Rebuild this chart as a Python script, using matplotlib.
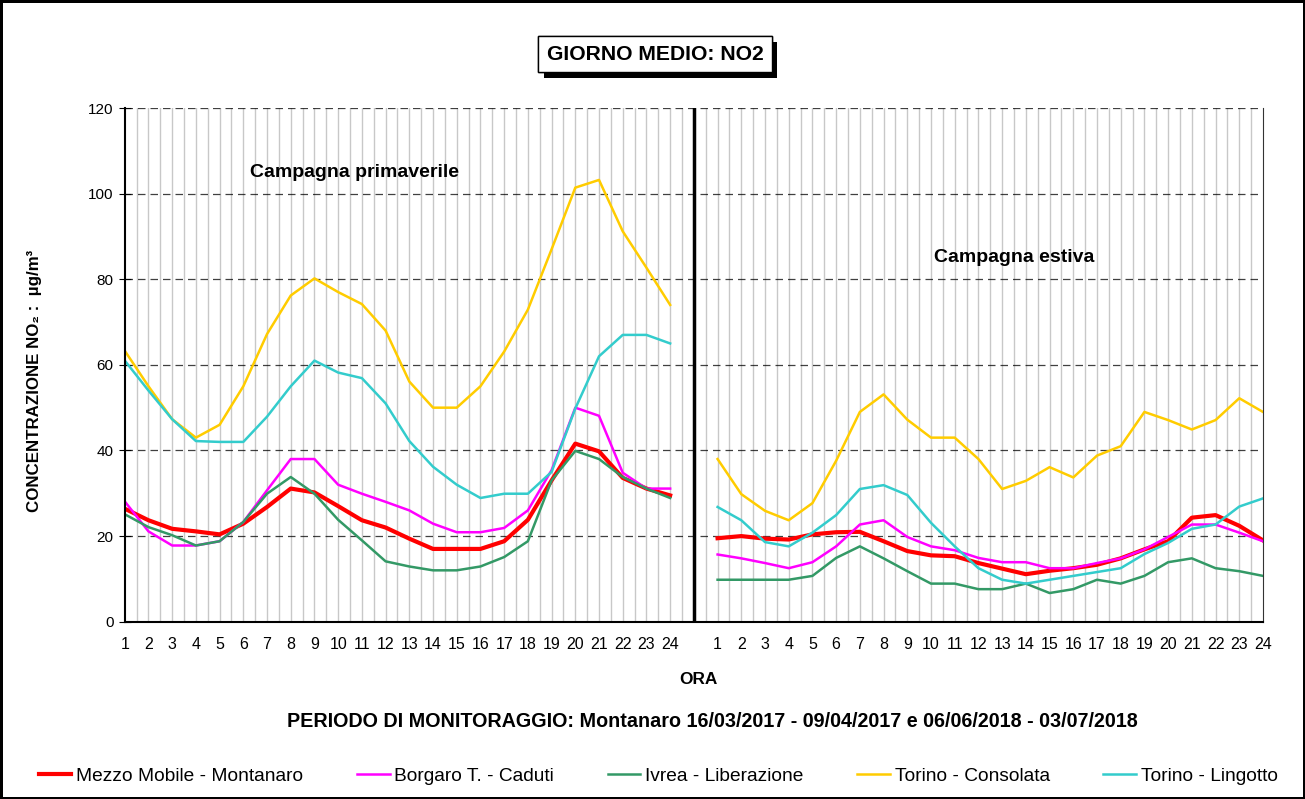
import numpy as np
import matplotlib
matplotlib.use("Agg")
import matplotlib.pyplot as plt  # noqa: E402
import matplotlib.patheffects as pe  # noqa: E402

plt.rcParams["font.family"] = ["Liberation Sans", "DejaVu Sans"]

hours = list(range(1, 25))

# campagna primaverile (2017)
montanaro_p = [26.4, 23.7, 21.7, 21.1, 20.4, 22.9, 26.8, 31.1, 30.2, 27.0, 23.7, 22.0,
               19.4, 17.0, 17.0, 17.0, 18.8, 23.8, 33.0, 41.6, 39.8, 33.6, 31.1, 29.5]
borgaro_p = [28.1, 21.1, 17.8, 17.8, 18.8, 23.3, 30.7, 38.0, 38.0, 32.0, 29.9, 28.0,
             26.0, 22.9, 20.9, 20.9, 21.9, 26.0, 35.4, 50.0, 48.1, 34.8, 31.1, 31.1]
ivrea_p = [25.1, 22.1, 20.2, 17.8, 18.8, 23.3, 29.9, 33.8, 29.9, 23.8, 19.0, 14.1,
           12.9, 12.0, 12.0, 12.9, 15.1, 18.8, 33.0, 39.9, 38.0, 33.8, 31.1, 28.9]
consolata_p = [63.3, 55.0, 47.3, 43.0, 46.0, 55.0, 67.2, 76.2, 80.2, 77.0, 74.2, 68.0,
               56.1, 50.0, 50.0, 55.0, 63.1, 72.9, 87.0, 101.4, 103.2, 91.2, 82.7, 74.0]
lingotto_p = [61.0, 54.0, 47.3, 42.2, 42.0, 42.0, 47.9, 55.0, 61.0, 58.2, 56.9, 51.0,
              42.2, 36.2, 32.0, 28.9, 29.9, 29.9, 35.0, 49.8, 62.0, 67.0, 67.0, 65.0]

# campagna estiva (2018)
montanaro_e = [19.5, 20.0, 19.4, 19.2, 20.4, 20.9, 21.0, 18.8, 16.5, 15.5, 15.3, 13.7,
               12.4, 11.1, 11.9, 12.5, 13.3, 14.8, 16.9, 18.8, 24.3, 24.9, 22.4, 19.0]
borgaro_e = [15.7, 14.8, 13.7, 12.5, 13.9, 17.6, 22.7, 23.7, 19.8, 17.6, 16.7, 14.9,
             13.9, 13.9, 12.5, 12.5, 13.7, 14.8, 16.9, 19.8, 22.7, 22.7, 20.8, 18.8]
ivrea_e = [9.8, 9.8, 9.8, 9.8, 10.7, 14.9, 17.6, 14.8, 11.8, 8.9, 8.9, 7.6,
           7.6, 8.9, 6.7, 7.6, 9.8, 8.9, 10.7, 13.9, 14.8, 12.5, 11.8, 10.7]
consolata_e = [38.0, 29.8, 25.9, 23.7, 27.7, 37.6, 49.0, 53.1, 47.2, 43.0, 43.0, 38.0,
               31.0, 32.9, 36.1, 33.7, 38.8, 41.0, 49.0, 47.1, 44.9, 47.1, 52.2, 49.0]
lingotto_e = [26.8, 23.7, 18.6, 17.6, 20.8, 24.9, 31.0, 31.9, 29.6, 23.1, 17.6, 12.5,
              9.8, 8.9, 9.8, 10.7, 11.6, 12.5, 15.8, 18.4, 21.7, 22.7, 26.9, 28.8]

series = [
    ("Mezzo Mobile - Montanaro", montanaro_p, montanaro_e, "#FF0000", 3.0),
    ("Borgaro T. - Caduti", borgaro_p, borgaro_e, "#FF00FF", 1.8),
    ("Ivrea - Liberazione", ivrea_p, ivrea_e, "#339966", 1.8),
    ("Torino - Consolata", consolata_p, consolata_e, "#FFCC00", 1.8),
    ("Torino - Lingotto", lingotto_p, lingotto_e, "#33CCCC", 1.8),
]

# categories: 24 hours, one empty slot, 24 hours
x1 = np.arange(24)
x2 = np.arange(25, 49)

fig = plt.figure(figsize=(13.05, 7.99), dpi=100)
fig.patch.set_edgecolor("black")
fig.patch.set_linewidth(2.5)
ax = fig.add_axes([0.0956, 0.2219, 0.8722, 0.6429])

for xg in np.arange(0.5, 48, 0.5):
    ax.axvline(xg, color="#C8C8C8", lw=1, zorder=0)
for yg in range(20, 121, 20):
    ax.axhline(yg, color="black", lw=0.9, ls=(0, (6, 4)), alpha=0.75, zorder=0)
ax.axvline(24, color="black", lw=2.5, zorder=1)

for name, vp, ve, col, lw in series:
    ax.plot(x1, vp, color=col, lw=lw, label=name, zorder=2)
    ax.plot(x2, ve, color=col, lw=lw, zorder=2)

ax.set_xlim(0, 48)
ax.set_ylim(0, 120)
ax.set_yticks(range(0, 121, 20))
ax.set_xticks(list(x1) + list(x2))
ax.set_xticklabels([str(h) for h in hours] * 2)
ax.tick_params(axis="x", length=0, pad=11, labelsize=11.5)
ax.tick_params(axis="y", direction="inout", length=8, pad=4, labelsize=11)
ax.spines["top"].set_visible(False)
for s in ("left", "bottom"):
    ax.spines[s].set_linewidth(1.5)
ax.spines["right"].set_color("#333333")

ax.text(9.7, 105, "Campagna primaverile", fontsize=14, fontweight="bold",
        ha="center", va="center")
ax.text(37.5, 85, "Campagna estiva", fontsize=14, fontweight="bold",
        ha="center", va="center")

fig.text(0.0265, 0.523, "CONCENTRAZIONE NO\u2082 :  \u00b5g/m\u00b3", rotation=90,
         fontsize=12.2, fontweight="bold", ha="center", va="center")
fig.text(0.535, 0.150, "ORA", fontsize=12.4, fontweight="bold", ha="center", va="center")
fig.text(0.5456, 0.0964,
         "PERIODO DI MONITORAGGIO: Montanaro 16/03/2017 - 09/04/2017 e 06/06/2018 - 03/07/2018",
         fontsize=14.2, fontweight="bold", ha="center", va="center")

title = fig.text(0.502, 0.932, "GIORNO MEDIO: NO2", fontsize=15.2, fontweight="bold",
                 ha="center", va="center",
                 bbox=dict(boxstyle="square,pad=0.4", fc="white", ec="black", lw=1))
title.get_bbox_patch().set_path_effects(
    [pe.withSimplePatchShadow(offset=(4, -4), shadow_rgbFace="black", alpha=1.0), pe.Normal()])

fig.legend(loc="center", bbox_to_anchor=(0.5045, 0.029), ncol=5, frameon=False,
           fontsize=13.8, handlelength=1.7, handletextpad=0.25, columnspacing=2.8)

fig.savefig("out.png", dpi=100, edgecolor=fig.get_edgecolor())
